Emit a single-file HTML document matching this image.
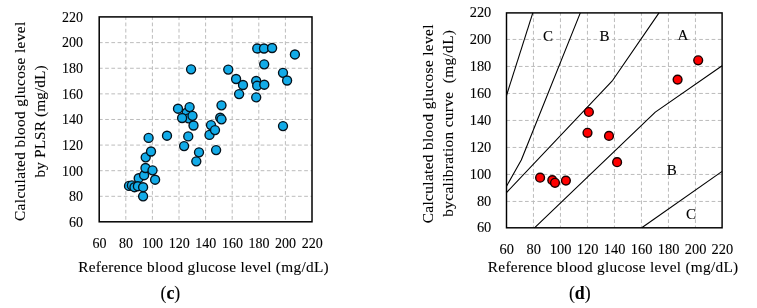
<!DOCTYPE html>
<html lang="en"><head><meta charset="utf-8"><title>Blood glucose plots</title>
<style>html,body{margin:0;padding:0;background:#fff}svg{display:block}text{stroke:#000;stroke-width:.1px}</style></head>
<body>
<svg width="757" height="308" viewBox="0 0 757 308" font-family='"Liberation Serif", serif' font-size="14" fill="#000">
<rect width="757" height="308" fill="#fff"/>
<g stroke="#bcbcbc" stroke-width="1" fill="none"><g stroke-dasharray="3.74 2.5" stroke-dashoffset="0.6"><line x1="125.80" y1="16.90" x2="125.80" y2="221.80"/><line x1="152.40" y1="16.90" x2="152.40" y2="221.80"/><line x1="179.00" y1="16.90" x2="179.00" y2="221.80"/><line x1="205.60" y1="16.90" x2="205.60" y2="221.80"/><line x1="232.20" y1="16.90" x2="232.20" y2="221.80"/><line x1="258.80" y1="16.90" x2="258.80" y2="221.80"/><line x1="285.40" y1="16.90" x2="285.40" y2="221.80"/></g><g stroke-dasharray="3.72 2.5" stroke-dashoffset="0.27"><line x1="99.20" y1="42.63" x2="312.00" y2="42.63"/><line x1="99.20" y1="68.25" x2="312.00" y2="68.25"/><line x1="99.20" y1="93.86" x2="312.00" y2="93.86"/><line x1="99.20" y1="119.47" x2="312.00" y2="119.47"/><line x1="99.20" y1="145.08" x2="312.00" y2="145.08"/><line x1="99.20" y1="170.70" x2="312.00" y2="170.70"/><line x1="99.20" y1="196.31" x2="312.00" y2="196.31"/></g></g>
<rect x="99.20" y="16.90" width="212.80" height="204.90" fill="none" stroke="#000" stroke-width="1.5"/>
<g fill="#12abe8" stroke="#04121c" stroke-width="1.35"><circle cx="257.25" cy="48.50" r="4.5"/><circle cx="264.00" cy="48.50" r="4.5"/><circle cx="272.10" cy="48.00" r="4.5"/><circle cx="294.90" cy="54.45" r="4.5"/><circle cx="264.20" cy="64.30" r="4.5"/><circle cx="191.06" cy="69.30" r="4.5"/><circle cx="228.25" cy="69.55" r="4.5"/><circle cx="283.00" cy="72.80" r="4.5"/><circle cx="287.10" cy="80.50" r="4.5"/><circle cx="236.10" cy="79.00" r="4.5"/><circle cx="243.00" cy="85.00" r="4.5"/><circle cx="256.20" cy="81.00" r="4.5"/><circle cx="257.20" cy="85.70" r="4.5"/><circle cx="264.30" cy="84.70" r="4.5"/><circle cx="239.10" cy="94.10" r="4.5"/><circle cx="256.20" cy="97.30" r="4.5"/><circle cx="178.00" cy="108.70" r="4.5"/><circle cx="186.70" cy="112.70" r="4.5"/><circle cx="189.60" cy="107.10" r="4.5"/><circle cx="188.60" cy="118.30" r="4.5"/><circle cx="182.10" cy="118.00" r="4.5"/><circle cx="192.50" cy="115.80" r="4.5"/><circle cx="193.50" cy="125.50" r="4.5"/><circle cx="221.50" cy="105.30" r="4.5"/><circle cx="220.20" cy="117.70" r="4.5"/><circle cx="221.50" cy="119.30" r="4.5"/><circle cx="209.50" cy="134.90" r="4.5"/><circle cx="211.00" cy="125.10" r="4.5"/><circle cx="215.00" cy="130.10" r="4.5"/><circle cx="283.00" cy="126.05" r="4.5"/><circle cx="167.00" cy="135.70" r="4.5"/><circle cx="188.25" cy="136.40" r="4.5"/><circle cx="184.10" cy="146.05" r="4.5"/><circle cx="216.10" cy="150.05" r="4.5"/><circle cx="199.00" cy="152.30" r="4.5"/><circle cx="196.30" cy="161.30" r="4.5"/><circle cx="148.60" cy="137.90" r="4.5"/><circle cx="145.70" cy="157.30" r="4.5"/><circle cx="151.00" cy="151.50" r="4.5"/><circle cx="138.70" cy="178.20" r="4.5"/><circle cx="144.10" cy="175.20" r="4.5"/><circle cx="145.50" cy="168.00" r="4.5"/><circle cx="152.50" cy="170.30" r="4.5"/><circle cx="155.10" cy="179.70" r="4.5"/><circle cx="129.00" cy="185.90" r="4.5"/><circle cx="131.90" cy="185.40" r="4.5"/><circle cx="134.50" cy="187.20" r="4.5"/><circle cx="137.90" cy="186.20" r="4.5"/><circle cx="143.10" cy="196.30" r="4.5"/><circle cx="143.10" cy="187.20" r="4.5"/></g>
<g><text x="83.00" y="21.80" text-anchor="end">220</text><text x="83.00" y="47.47" text-anchor="end">200</text><text x="83.00" y="73.14" text-anchor="end">180</text><text x="83.00" y="98.81" text-anchor="end">160</text><text x="83.00" y="124.48" text-anchor="end">140</text><text x="83.00" y="150.15" text-anchor="end">120</text><text x="83.00" y="175.82" text-anchor="end">100</text><text x="83.00" y="201.49" text-anchor="end">80</text><text x="83.00" y="227.16" text-anchor="end">60</text></g>
<g><text x="99.40" y="248.00" text-anchor="middle">60</text><text x="126.00" y="248.00" text-anchor="middle">80</text><text x="152.60" y="248.00" text-anchor="middle">100</text><text x="179.20" y="248.00" text-anchor="middle">120</text><text x="205.80" y="248.00" text-anchor="middle">140</text><text x="232.40" y="248.00" text-anchor="middle">160</text><text x="259.00" y="248.00" text-anchor="middle">180</text><text x="285.60" y="248.00" text-anchor="middle">200</text><text x="312.20" y="248.00" text-anchor="middle">220</text></g>
<text transform="translate(25.00,121.40) rotate(-90)" text-anchor="middle" font-size="15.3" textLength="199.2" lengthAdjust="spacing">Calculated blood glucose level</text>
<text transform="translate(44.70,121.40) rotate(-90)" text-anchor="middle" font-size="15.3" textLength="112" lengthAdjust="spacing">by PLSR (mg/dL)</text>
<text x="78.20" y="272.20" font-size="15.3" textLength="250.5" lengthAdjust="spacing">Reference blood glucose level (mg/dL)</text>
<text x="170.4" y="298.9" text-anchor="middle" font-size="17.8">(<tspan font-weight="bold">c</tspan>)</text>
<g stroke="#bcbcbc" stroke-width="1" fill="none"><g stroke-dasharray="3.78 2.5" stroke-dashoffset="0.9"><line x1="533.44" y1="12.90" x2="533.44" y2="227.80"/><line x1="560.44" y1="12.90" x2="560.44" y2="227.80"/><line x1="587.44" y1="12.90" x2="587.44" y2="227.80"/><line x1="614.44" y1="12.90" x2="614.44" y2="227.80"/><line x1="641.44" y1="12.90" x2="641.44" y2="227.80"/><line x1="668.44" y1="12.90" x2="668.44" y2="227.80"/><line x1="695.44" y1="12.90" x2="695.44" y2="227.80"/></g><g stroke-dasharray="3.72 2.5" stroke-dashoffset="0.15"><line x1="506.50" y1="39.45" x2="722.10" y2="39.45"/><line x1="506.50" y1="66.45" x2="722.10" y2="66.45"/><line x1="506.50" y1="93.45" x2="722.10" y2="93.45"/><line x1="506.50" y1="120.45" x2="722.10" y2="120.45"/><line x1="506.50" y1="147.45" x2="722.10" y2="147.45"/><line x1="506.50" y1="174.45" x2="722.10" y2="174.45"/><line x1="506.50" y1="201.45" x2="722.10" y2="201.45"/></g></g>
<g fill="none" stroke="#000" stroke-width="1.1" stroke-linejoin="round"><polyline points="532.80,12.90 506.50,95.50"/><polyline points="580.30,12.90 521.30,160.00 506.50,186.20"/><polyline points="659.00,12.90 612.70,80.30 506.50,192.60"/><polyline points="722.10,65.70 655.30,112.10 534.50,227.80"/><polyline points="722.10,171.40 641.75,227.80"/></g>
<rect x="506.50" y="12.90" width="215.60" height="214.90" fill="none" stroke="#000" stroke-width="1.45"/>
<g fill="#ff0000" stroke="#1a0000" stroke-width="1.4"><circle cx="698.20" cy="60.30" r="4.4"/><circle cx="677.60" cy="79.60" r="4.4"/><circle cx="588.90" cy="112.00" r="4.4"/><circle cx="587.50" cy="132.80" r="4.4"/><circle cx="609.00" cy="135.90" r="4.4"/><circle cx="617.10" cy="162.20" r="4.4"/><circle cx="540.10" cy="177.70" r="4.4"/><circle cx="552.30" cy="180.20" r="4.4"/><circle cx="555.00" cy="182.80" r="4.4"/><circle cx="565.90" cy="180.60" r="4.4"/></g>
<g font-size="14.4"><text x="491.30" y="17.40" text-anchor="end">220</text><text x="491.30" y="43.95" text-anchor="end">200</text><text x="491.30" y="70.95" text-anchor="end">180</text><text x="491.30" y="97.95" text-anchor="end">160</text><text x="491.30" y="124.95" text-anchor="end">140</text><text x="491.30" y="151.95" text-anchor="end">120</text><text x="491.30" y="178.95" text-anchor="end">100</text><text x="491.30" y="205.95" text-anchor="end">80</text><text x="491.30" y="232.30" text-anchor="end">60</text></g>
<g font-size="14.4"><text x="506.70" y="254.00" text-anchor="middle">60</text><text x="533.64" y="254.00" text-anchor="middle">80</text><text x="560.64" y="254.00" text-anchor="middle">100</text><text x="587.64" y="254.00" text-anchor="middle">120</text><text x="614.64" y="254.00" text-anchor="middle">140</text><text x="641.64" y="254.00" text-anchor="middle">160</text><text x="668.64" y="254.00" text-anchor="middle">180</text><text x="695.64" y="254.00" text-anchor="middle">200</text><text x="722.30" y="254.00" text-anchor="middle">220</text></g>
<g font-size="15" text-anchor="middle"><text x="548" y="41">C</text><text x="604.4" y="41">B</text><text x="683" y="40.3">A</text><text x="671.7" y="174.9">B</text><text x="691" y="219.2">C</text></g>
<text transform="translate(433.00,123.90) rotate(-90)" text-anchor="middle" font-size="15.3" textLength="198.6" lengthAdjust="spacing">Calculated blood glucose level</text>
<text transform="translate(452.90,123.40) rotate(-90)" text-anchor="middle" font-size="15.3" textLength="186.7" lengthAdjust="spacing">bycalibration curve&#160;&#160;(mg/dL)</text>
<text x="487.80" y="271.60" font-size="15.3" textLength="250.4" lengthAdjust="spacing">Reference blood glucose level (mg/dL)</text>
<text x="579.75" y="298.9" text-anchor="middle" font-size="17.8">(<tspan font-weight="bold">d</tspan>)</text>
</svg>
</body></html>
